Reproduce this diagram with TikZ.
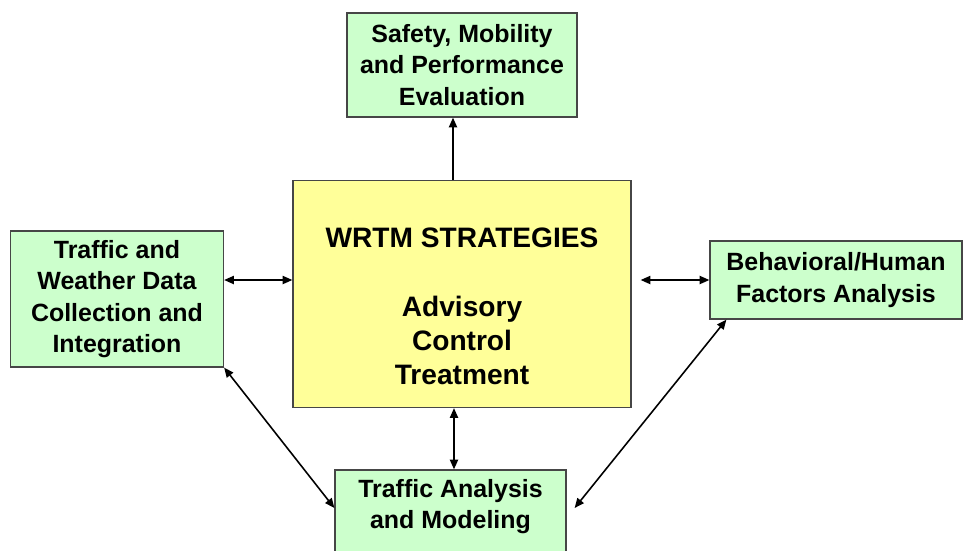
\documentclass[tikz,border=0pt]{standalone}
\usepackage{fontspec}
\setmainfont{Liberation Sans}
\usetikzlibrary{arrows.meta,calc}
\definecolor{boxgreen}{RGB}{204,255,204}
\definecolor{boxyellow}{RGB}{255,255,153}
\definecolor{boxline}{RGB}{70,70,70}

\begin{document}
\begin{tikzpicture}[x=0.2mm, y=-0.2mm,
    box/.style={rectangle, draw=boxline, line width=0.7pt, align=center, inner sep=0pt,
                font=\bfseries\fontsize{14.2}{17.8}\selectfont},
    task/.style={box, fill=boxgreen},
    core/.style={box, fill=boxyellow},
    inlbl/.style={align=center, inner sep=0pt},
    arr/.style={-{Triangle[length=5.5pt,width=4.6pt]}, line width=0.9pt},
    biarr/.style={{Triangle[length=5.5pt,width=4.6pt]}-{Triangle[length=5.5pt,width=4.6pt]}, line width=0.9pt}]
  \useasboundingbox (0,0) rectangle (965,550);
  \node[task, minimum width=46mm, minimum height=20.8mm] (eval) at (462,65)
    {Safety, Mobility\\and Performance\\Evaluation};
  \node[core, minimum width=67.6mm, minimum height=45.4mm,
        label={[inlbl, font=\bfseries\fontsize{16}{19.5}\selectfont, yshift=-2.5mm]center:{WRTM STRATEGIES\\[19.5pt]Advisory\\Control\\Treatment}}]
    (strat) at (462,294) {};
  \node[task, minimum width=42.6mm, minimum height=27.2mm] (feed) at (117,299)
    {Traffic and\\Weather Data\\Collection and\\Integration};
  \node[task, minimum width=50.4mm, minimum height=15.6mm] (human) at (836,280)
    {Behavioral/Human\\Factors Analysis};
  \node[task, minimum width=46.2mm, minimum height=18mm,
        label={[inlbl, font=\bfseries\fontsize{14.2}{17.8}\selectfont, yshift=1.7mm]center:{Traffic Analysis\\and Modeling}}]
    (model) at (450.5,515) {};
  % connectors
  \coordinate (up) at ($(strat.north)+(-9,0)$);
  \coordinate (lw) at ($(strat.west)+(0,-14)$);
  \coordinate (re) at ($(strat.east)+(9,-14)$);
  \coordinate (dn) at ($(strat.south)+(-8,0)$);
  \draw[arr] (up) -- (up |- eval.south);
  \draw[biarr] (lw -| feed.east) -- (lw);
  \draw[biarr] (re) -- (re -| human.west);
  \draw[biarr] (dn) -- (dn |- model.north);
  \draw[biarr] (feed.south east) -- ($(model.west)+(0,-7)$);
  \draw[biarr] ($(human.south west)+(17,0)$) -- ($(model.east)+(8,-7)$);
\end{tikzpicture}
\end{document}
